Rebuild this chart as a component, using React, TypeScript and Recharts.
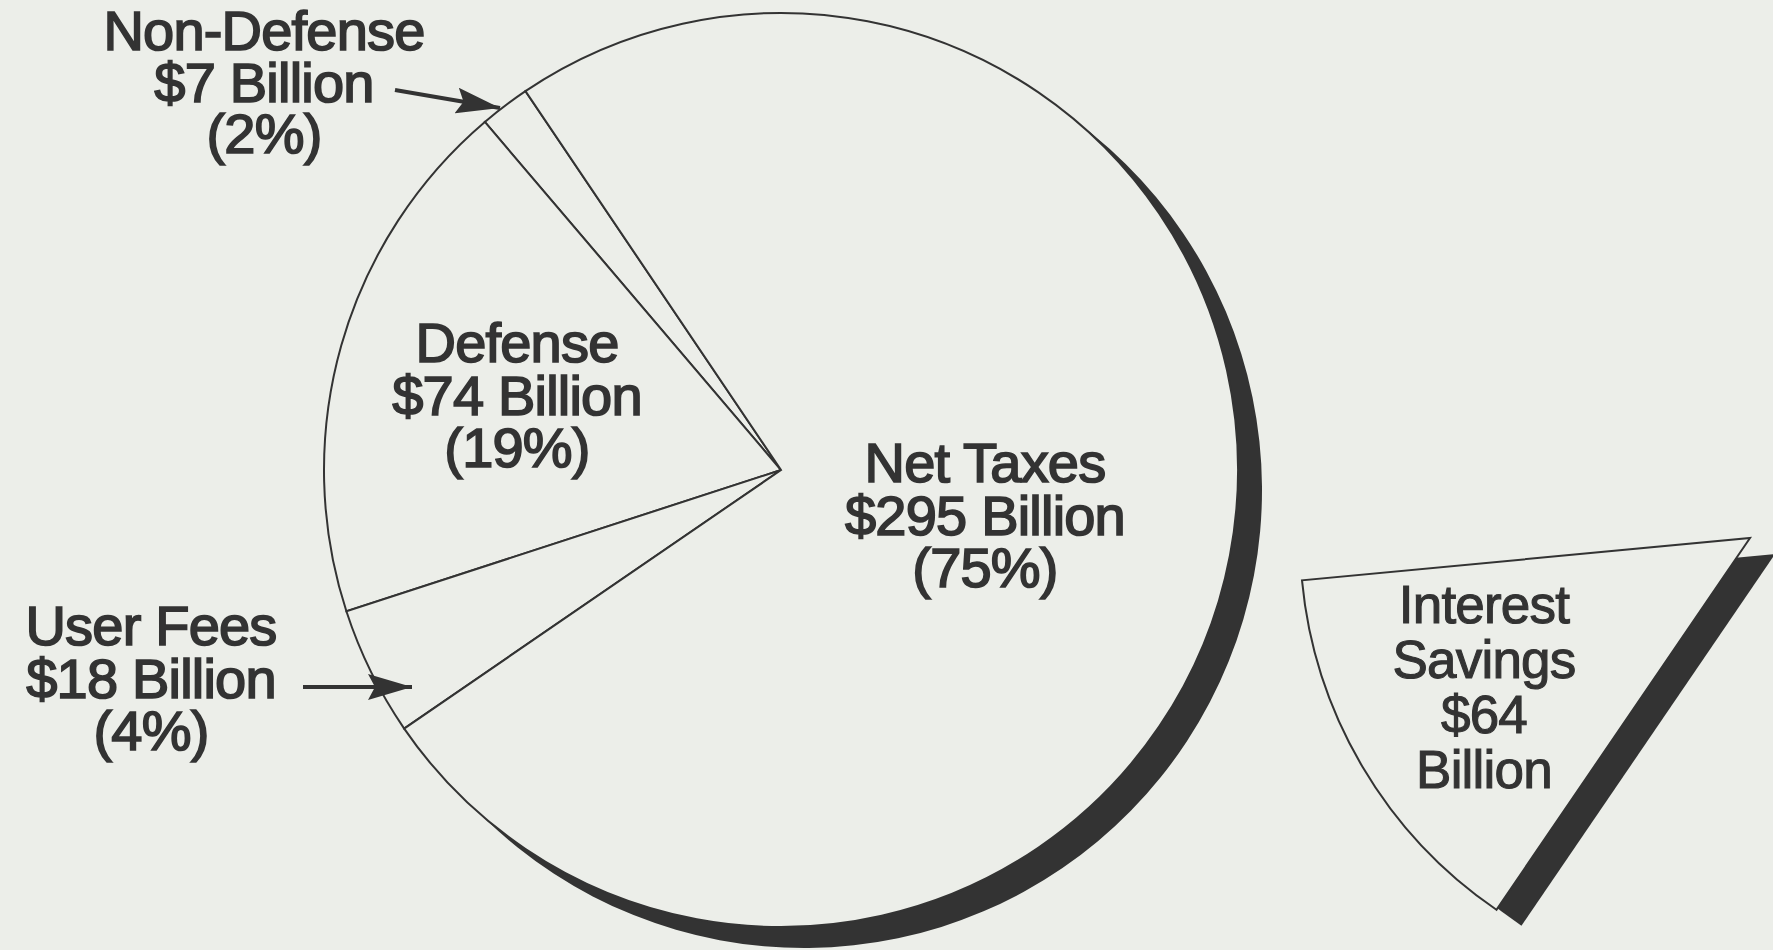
import React from "react";
import { PieChart, Pie, Cell } from "recharts";

// revenue sources, in billions of dollars
const categories = ["Non-Defense", "Defense", "User Fees", "Net Taxes"];
const billions = [7, 74, 18, 295];
const percents = [2, 19, 4, 75];

const interestName = "Interest Savings";
const interestBillions = 64;

const W = 1773;
const H = 950;
const PAPER = "#eceee9";
const INK = "#333333";
const FONT = "'Liberation Sans', Arial, Helvetica, sans-serif";

const mainData = categories.map((name, i) => ({ name, value: billions[i] }));
const restTotal = billions.reduce((a, b) => a + b, 0);
const interestData = [
  { name: interestName, value: interestBillions },
  { name: "rest", value: restTotal },
];

const MAIN = { cx: 781, cy: 470, r: 457, start: 124 };
const WEDGE = { cx: 1750, cy: 538, r: 450, start: 185.4 };

function Label({ x, y, lines, size = 56, gap = 52.5, weight = 1.7 }: { x: number; y: number; lines: string[]; size?: number; gap?: number; weight?: number }) {
  return (
    <text
      x={x}
      y={y}
      textAnchor="middle"
      fontFamily={FONT}
      fontSize={size}
      fill={INK}
      stroke={INK}
      strokeWidth={weight}
      letterSpacing={-0.8}
    >
      {lines.map((l, i) => (
        <tspan key={i} x={x} y={y + i * gap}>
          {l}
        </tspan>
      ))}
    </text>
  );
}

function lines(i: number) {
  return [categories[i], `$${billions[i]} Billion`, `(${percents[i]}%)`];
}

export default function App() {
  return (
    <div style={{ position: "absolute", left: 0, top: 0, width: W, height: H, background: PAPER }}>
      <PieChart width={W} height={H} margin={{ top: 0, right: 0, bottom: 0, left: 0 }}>
        {/* drop shadows */}
        <Pie
          data={mainData}
          dataKey="value"
          cx={MAIN.cx + 23}
          cy={MAIN.cy + 20}
          outerRadius={MAIN.r + 1}
          startAngle={MAIN.start}
          endAngle={MAIN.start + 360}
          stroke="none"
          fill={INK}
          isAnimationActive={false}
        />
        <Pie
          data={interestData}
          dataKey="value"
          cx={WEDGE.cx + 25}
          cy={WEDGE.cy + 16}
          outerRadius={WEDGE.r}
          startAngle={WEDGE.start}
          endAngle={WEDGE.start + 360}
          stroke="none"
          isAnimationActive={false}
        >
          <Cell fill={INK} />
          <Cell fill="none" />
        </Pie>
        {/* main pie */}
        <Pie
          data={mainData}
          dataKey="value"
          cx={MAIN.cx}
          cy={MAIN.cy}
          outerRadius={MAIN.r}
          startAngle={MAIN.start}
          endAngle={MAIN.start + 360}
          fill={PAPER}
          stroke={INK}
          strokeWidth={2}
          isAnimationActive={false}
        />
        {/* interest savings wedge */}
        <Pie
          data={interestData}
          dataKey="value"
          cx={WEDGE.cx}
          cy={WEDGE.cy}
          outerRadius={WEDGE.r}
          startAngle={WEDGE.start}
          endAngle={WEDGE.start + 360}
          strokeWidth={2}
          isAnimationActive={false}
        >
          <Cell fill={PAPER} stroke={INK} />
          <Cell fill="none" stroke="none" />
        </Pie>
      </PieChart>

      <svg width={W} height={H} style={{ position: "absolute", left: 0, top: 0, pointerEvents: "none" }}>
        <defs>
          <marker id="arrow" viewBox="0 0 44 26" refX="44" refY="13" markerWidth="44" markerHeight="26" orient="auto" markerUnits="userSpaceOnUse">
            <path d="M0,0 L44,13 L0,26 L7,13 Z" fill={INK} />
          </marker>
        </defs>
        <line x1={395} y1={90} x2={500} y2={108} stroke={INK} strokeWidth={4} markerEnd="url(#arrow)" />
        <line x1={303} y1={687} x2={412} y2={687} stroke={INK} strokeWidth={4} markerEnd="url(#arrow)" />

        <Label x={264} y={50} lines={lines(0)} gap={51.5} />
        <Label x={517} y={362} lines={lines(1)} />
        <Label x={151} y={645} lines={lines(2)} />
        <Label x={985} y={482} lines={lines(3)} />
        <Label x={1484} y={623} lines={["Interest", "Savings", `$${interestBillions}`, "Billion"]} size={53} gap={55} weight={1.1} />
      </svg>
    </div>
  );
}
